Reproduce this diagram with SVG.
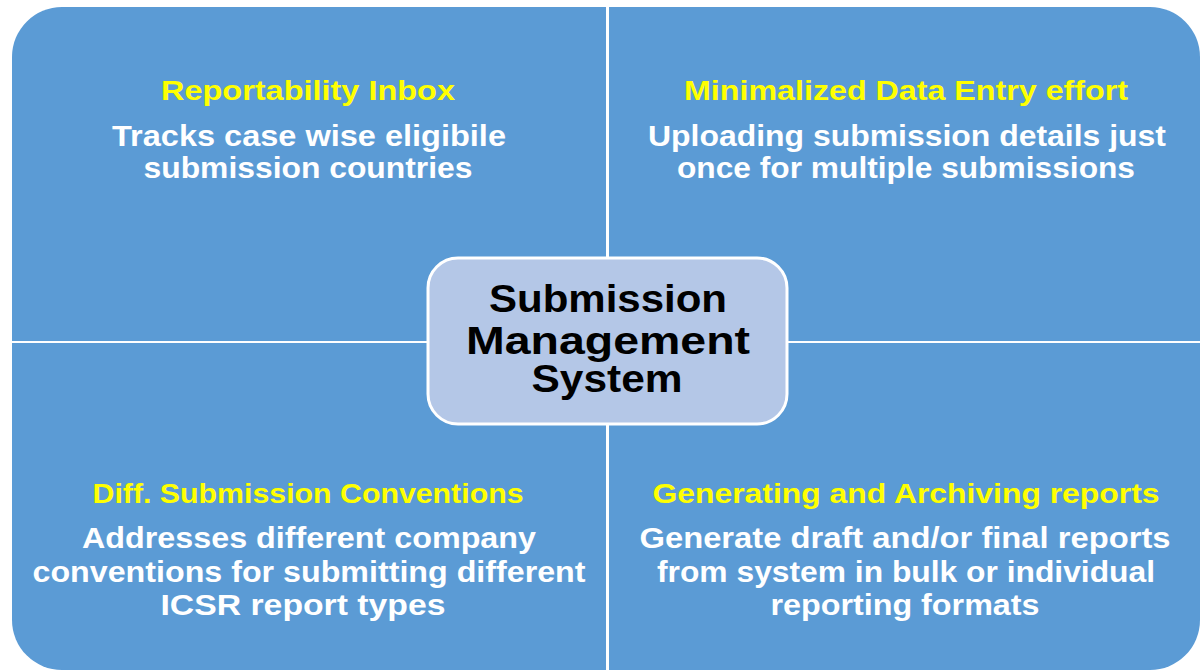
<svg xmlns="http://www.w3.org/2000/svg" width="1201" height="672" viewBox="0 0 1201 672">
<style>
.q{fill:#5B9BD5}
.h{font-family:"Liberation Sans",Arial,sans-serif;font-weight:bold;font-size:28px;fill:#FFFF00;text-anchor:middle}
.b{font-family:"Liberation Sans",Arial,sans-serif;font-weight:bold;font-size:29px;fill:#FFFFFF;text-anchor:middle}
.c{font-family:"Liberation Sans",Arial,sans-serif;font-weight:bold;font-size:38px;fill:#000000;text-anchor:middle}
</style>
<rect width="1201" height="672" fill="#FFFFFF"/>
<g id="q-top-left">
<path class="q" d="M12,341 V57 A50,50 0 0 1 62,7 H606 V341 Z"/>
<text class="h" x="308" y="100" textLength="294" lengthAdjust="spacingAndGlyphs">Reportability Inbox</text>
<text class="b" x="309" y="146" textLength="394" lengthAdjust="spacingAndGlyphs">Tracks case wise eligibile</text>
<text class="b" x="308" y="178" textLength="329" lengthAdjust="spacingAndGlyphs">submission countries</text>
</g>
<g id="q-top-right">
<path class="q" d="M609,7 H1150 A50,50 0 0 1 1200,57 V341 H609 Z"/>
<text class="h" x="906" y="100" textLength="444" lengthAdjust="spacingAndGlyphs">Minimalized Data Entry effort</text>
<text class="b" x="907" y="146" textLength="518" lengthAdjust="spacingAndGlyphs">Uploading submission details just</text>
<text class="b" x="906" y="178" textLength="458" lengthAdjust="spacingAndGlyphs">once for multiple submissions</text>
</g>
<g id="q-bottom-left">
<path class="q" d="M12,343 H606 V670 H62 A50,50 0 0 1 12,620 Z"/>
<text class="h" x="308" y="503" textLength="431" lengthAdjust="spacingAndGlyphs">Diff. Submission Conventions</text>
<text class="b" x="309" y="548" textLength="454" lengthAdjust="spacingAndGlyphs">Addresses different company</text>
<text class="b" x="309" y="582" textLength="553" lengthAdjust="spacingAndGlyphs">conventions for submitting different</text>
<text class="b" x="303" y="615" textLength="285" lengthAdjust="spacingAndGlyphs">ICSR report types</text>
</g>
<g id="q-bottom-right">
<path class="q" d="M609,343 H1200 V620 A50,50 0 0 1 1150,670 H609 Z"/>
<text class="h" x="906" y="503" textLength="507" lengthAdjust="spacingAndGlyphs">Generating and Archiving reports</text>
<text class="b" x="905" y="548" textLength="531" lengthAdjust="spacingAndGlyphs">Generate draft and/or final reports</text>
<text class="b" x="906" y="582" textLength="498" lengthAdjust="spacingAndGlyphs">from system in bulk or individual</text>
<text class="b" x="905" y="615" textLength="269" lengthAdjust="spacingAndGlyphs">reporting formats</text>
</g>
<g id="center">
<rect x="428" y="258" width="359" height="166" rx="30" ry="30" fill="#B4C7E7" stroke="#FFFFFF" stroke-width="3"/>
<text class="c" x="608" y="312" textLength="238" lengthAdjust="spacingAndGlyphs">Submission</text>
<text class="c" x="608" y="354" textLength="284" lengthAdjust="spacingAndGlyphs">Management</text>
<text class="c" x="607" y="392" textLength="151" lengthAdjust="spacingAndGlyphs">System</text>
</g>
<g id="connectors"></g>
</svg>
